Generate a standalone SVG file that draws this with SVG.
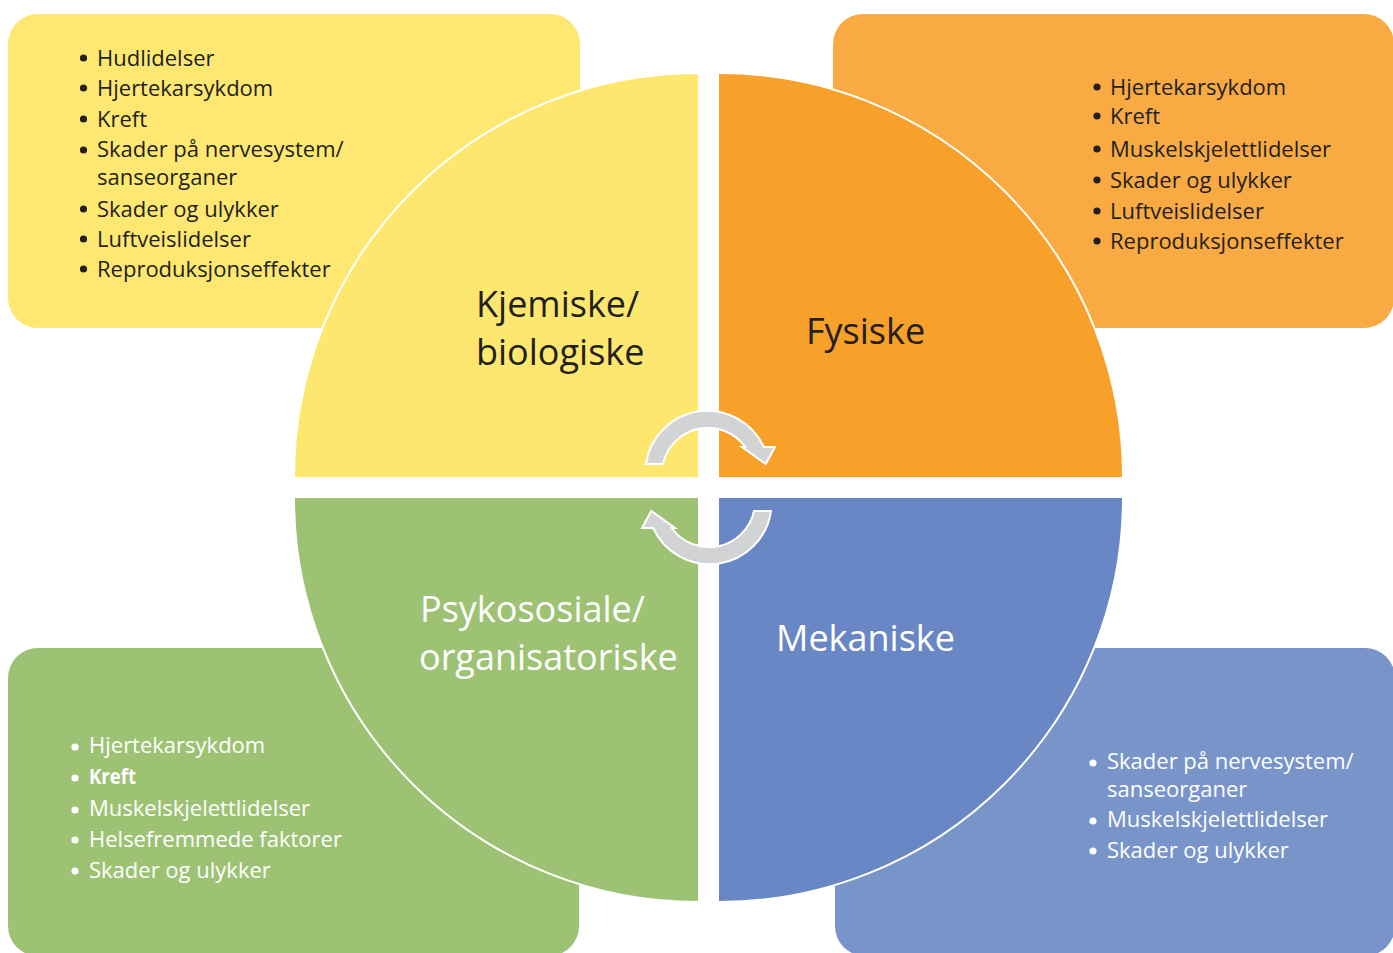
<svg xmlns="http://www.w3.org/2000/svg" width="1393" height="953" viewBox="0 0 1393 953">
<style>
.t{font-family:"Open Sans","Liberation Sans",sans-serif;font-size:22px;font-weight:500}
.b{font-weight:bold}
.dk{fill:#231F20}
.wh{fill:#FFFFFF}
.big{font-family:"Open Sans","Liberation Sans",sans-serif;font-size:36px;font-weight:500}
.arcw{fill:none;stroke:#FFFFFF;stroke-width:2}
.arrow{fill:#D1D3D4;stroke:#FFFFFF;stroke-width:2;stroke-linejoin:miter}
</style>
<rect width="1393" height="953" fill="#FFFFFF"/>

<g id="box-kjemiske">
<rect x="8" y="14" width="572" height="314" rx="30" fill="#FEE872"/>
<g class="dk">
<circle cx="83.5" cy="58" r="3.6"/><circle cx="83.5" cy="88" r="3.6"/><circle cx="83.5" cy="119" r="3.6"/><circle cx="83.5" cy="150" r="3.6"/><circle cx="83.5" cy="209" r="3.6"/><circle cx="83.5" cy="239" r="3.6"/><circle cx="83.5" cy="269" r="3.6"/>
</g>
<text class="t dk" x="97" y="66">Hudlidelser</text>
<text class="t dk" x="97" y="96">Hjertekarsykdom</text>
<text class="t dk" x="97" y="127">Kreft</text>
<text class="t dk" x="97" y="157">Skader på nervesystem/</text>
<text class="t dk" x="97" y="185">sanseorganer</text>
<text class="t dk" x="97" y="217">Skader og ulykker</text>
<text class="t dk" x="97" y="247">Luftveislidelser</text>
<text class="t dk" x="97" y="277">Reproduksjonseffekter</text>
</g>

<g id="box-fysiske">
<rect x="833" y="14" width="561" height="314" rx="30" fill="#F9AA42"/>
<g class="dk">
<circle cx="1097" cy="87" r="3.6"/><circle cx="1097" cy="116" r="3.6"/><circle cx="1097" cy="149" r="3.6"/><circle cx="1097" cy="180" r="3.6"/><circle cx="1097" cy="211" r="3.6"/><circle cx="1097" cy="241" r="3.6"/>
</g>
<text class="t dk" x="1110" y="95">Hjertekarsykdom</text>
<text class="t dk" x="1110" y="124">Kreft</text>
<text class="t dk" x="1110" y="157">Muskelskjelettlidelser</text>
<text class="t dk" x="1110" y="188">Skader og ulykker</text>
<text class="t dk" x="1110" y="219">Luftveislidelser</text>
<text class="t dk" x="1110" y="249">Reproduksjonseffekter</text>
</g>

<g id="box-psykososiale">
<rect x="8" y="648" width="571" height="308" rx="30" fill="#9DC274"/>
<g class="wh">
<circle cx="75" cy="747" r="3.6"/><circle cx="75" cy="778" r="3.6"/><circle cx="75" cy="810" r="3.6"/><circle cx="75" cy="840" r="3.6"/><circle cx="75" cy="871" r="3.6"/>
</g>
<text class="t wh" x="89" y="753">Hjertekarsykdom</text>
<text class="t b wh" x="89" y="784" textLength="47" lengthAdjust="spacingAndGlyphs">Kreft</text>
<text class="t wh" x="89" y="816">Muskelskjelettlidelser</text>
<text class="t wh" x="89" y="847">Helsefremmede faktorer</text>
<text class="t wh" x="89" y="878">Skader og ulykker</text>
</g>

<g id="box-mekaniske">
<rect x="835" y="648" width="560" height="308" rx="30" fill="#7894C8"/>
<g class="wh">
<circle cx="1093" cy="763" r="3.6"/><circle cx="1093" cy="821" r="3.6"/><circle cx="1093" cy="851" r="3.6"/>
</g>
<text class="t wh" x="1107" y="769">Skader på nervesystem/</text>
<text class="t wh" x="1107" y="797">sanseorganer</text>
<text class="t wh" x="1107" y="827">Muskelskjelettlidelser</text>
<text class="t wh" x="1107" y="858">Skader og ulykker</text>
</g>

<g id="quadrant-kjemiske">
<path d="M698 477 H294 A404 404 0 0 1 698 73 Z" fill="#FEE76F"/>
<path class="arcw" d="M294 477 A404 404 0 0 1 698 73"/>
<text class="big dk" x="476" y="317">Kjemiske/</text>
<text class="big dk" x="476" y="365">biologiske</text>
</g>

<g id="quadrant-fysiske">
<path d="M719 477 V73 A404 404 0 0 1 1123 477 Z" fill="#F7A02A"/>
<path class="arcw" d="M719 73 A404 404 0 0 1 1123 477"/>
<text class="big dk" x="806" y="344">Fysiske</text>
</g>

<g id="quadrant-mekaniske">
<path d="M719 498 H1123 A404 404 0 0 1 719 902 Z" fill="#6987C4"/>
<path class="arcw" d="M1123 498 A404 404 0 0 1 719 902"/>
<text class="big wh" x="776" y="651">Mekaniske</text>
</g>

<g id="quadrant-psykososiale">
<path d="M698 498 V902 A404 404 0 0 1 294 498 Z" fill="#9DC274"/>
<path class="arcw" d="M698 902 A404 404 0 0 1 294 498"/>
<text class="big wh" x="420" y="622">Psykososiale/</text>
<text class="big wh" x="419" y="670">organisatoriske</text>
</g>

<g id="connectors">
<path class="arrow" d="M646 464 A62 62 0 0 1 763.8 447 L775 447 L765.7 464 L742 447 L745.3 447 A46 46 0 0 0 663 464 Z"/>
<path class="arrow" transform="rotate(180 708.5 487.5)" d="M646 464 A62 62 0 0 1 763.8 447 L775 447 L765.7 464 L742 447 L745.3 447 A46 46 0 0 0 663 464 Z"/>
</g>
</svg>
